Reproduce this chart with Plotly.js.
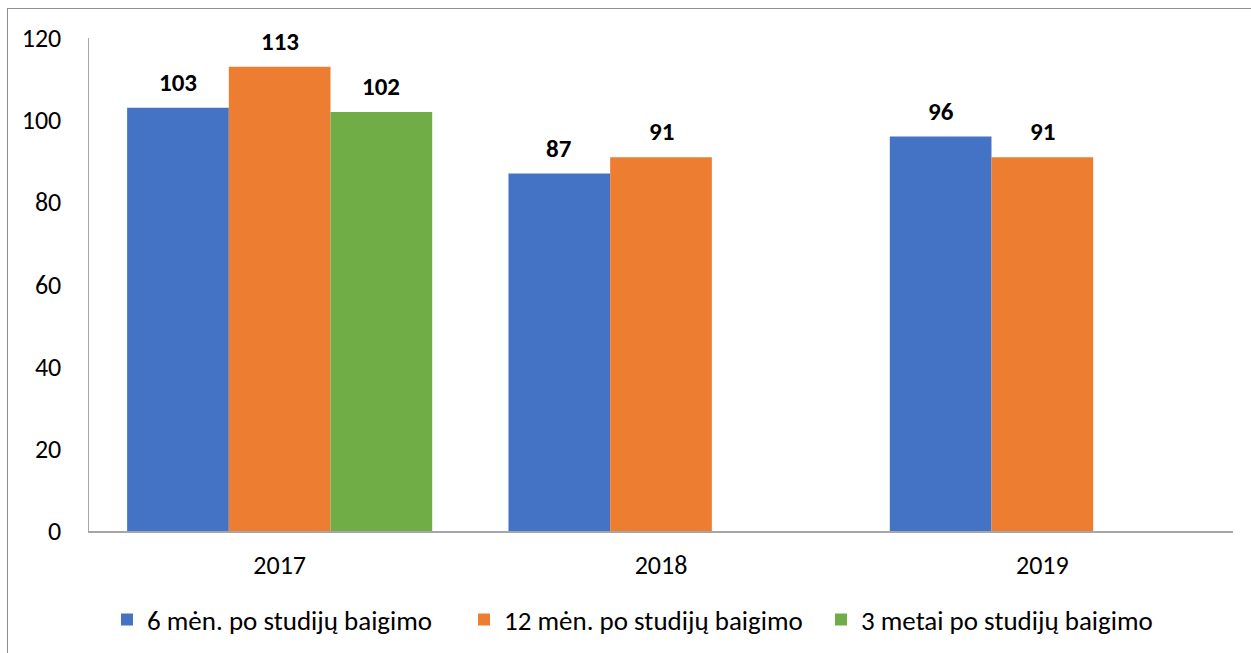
<!DOCTYPE html>
<html><head><meta charset="utf-8">
<script src="https://cdn.plot.ly/plotly-3.0.1.min.js"></script>
<style>
html,body{margin:0;padding:0;background:#fff;overflow:hidden}
#frame{position:absolute;left:7px;top:8px;width:1400px;height:800px;border:1.5px solid #8f8f8f;box-sizing:border-box}
#chart{position:absolute;left:0;top:0;width:1251px;height:653px}
</style></head>
<body>
<div id="frame"></div>
<div id="chart"></div>
<script>
const years = ['2017','2018','2019'];
const seriesNames = ['6 mėn. po studijų baigimo','12 mėn. po studijų baigimo','3 metai po studijų baigimo'];
const s6 = [103, 87, 96];
const s12 = [113, 91, 91];
const s3y = [102, null, null];
const colors = ['#4472C4','#ED7D31','#70AD47'];
const yTicks = [0,20,40,60,80,100,120];

const all = [s6, s12, s3y];
const FONT = 'Carlito, Lato, "Liberation Sans", sans-serif';
const traces = all.map((vals,i)=>({
  type:'bar', x: years, y: vals, name: seriesNames[i],
  marker:{color: colors[i], line:{width:0}}, hoverinfo:'skip'
}));

const groupW = 0.8, n = all.length, bw = groupW/n;
const annotations = [];
all.forEach((vals,j)=>{
  vals.forEach((v,i)=>{
    if(v==null) return;
    annotations.push({
      xref:'x', yref:'y', x: i + (j-(n-1)/2)*bw, y: v,
      text: '<b>'+v+'</b>', showarrow:false, yanchor:'bottom', yshift:8,
      font:{family:FONT, size:25, color:'#000'}
    });
  });
});

const layout = {
  width:1251, height:653,
  margin:{l:89, r:18, t:38, b:122},
  paper_bgcolor:'rgba(0,0,0,0)', plot_bgcolor:'rgba(0,0,0,0)',
  barmode:'group', bargap:0.2, bargroupgap:0,
  font:{family:FONT, size:26, color:'#000'},
  xaxis:{type:'category', automargin:false, showline:true, linecolor:'#a6a6a6', linewidth:1.5,
    ticks:'', showgrid:false, zeroline:false, tickfont:{size:26}, ticklabelstandoff:10},
  yaxis:{range:[0,120], automargin:false, tickvals:yTicks, showline:true, linecolor:'#a6a6a6', linewidth:1.5,
    showgrid:false, zeroline:false, ticks:'', tickfont:{size:26}, ticklabelstandoff:21},
  showlegend:true,
  legend:{orientation:'h', xref:'container', yref:'container', x:107/1251, xanchor:'left',
    y:1-620/653, yanchor:'middle',
    font:{size:27}, itemwidth:30, entrywidth:312, traceorder:'normal'},
  annotations: annotations
};
Plotly.newPlot('chart', traces, layout, {staticPlot:true, displayModeBar:false});
</script>
</body></html>
